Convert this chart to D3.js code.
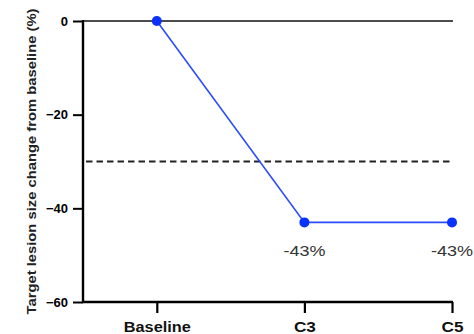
<!DOCTYPE html>
<html><head><meta charset="utf-8">
<script src="https://cdn.jsdelivr.net/npm/d3@7"></script>
<style>body{margin:0;background:#fff}svg{display:block}</style>
</head><body>
<svg id="c" width="474" height="334"></svg>
<script>
const categories = ["Baseline", "C3", "C5"];
const values = [0, -43, -43];
const pointLabels = ["", "-43%", "-43%"];
const yTicks = [0, -20, -40, -60];
const threshold = -30;

const svg = d3.select("#c");
const x = d3.scaleLinear().domain([-0.5, 2]).range([83, 452]);
const y = d3.scaleLinear().domain([0, -60]).range([21, 302]);
const font = "'Liberation Sans', Arial, sans-serif";
const xLabelW = { "Baseline": 67, "C3": 22, "C5": 22 };

// zero line
svg.append("line").attr("x1", x(-0.5)).attr("x2", x(2) + 1).attr("y1", y(0)).attr("y2", y(0))
  .attr("stroke", "#111").attr("stroke-width", 1.3);
// threshold dashed
svg.append("line").attr("x1", x(-0.5) + 3).attr("x2", x(2) + 1).attr("y1", y(threshold)).attr("y2", y(threshold))
  .attr("stroke", "#222").attr("stroke-width", 2).attr("stroke-dasharray", "6.5,4");

// y axis
const ya = svg.append("g").attr("transform", `translate(${x(-0.5)},0)`)
  .call(d3.axisLeft(y).tickValues(yTicks).tickSize(10).tickPadding(5).tickFormat(d3.format("d")));
ya.select(".domain").attr("stroke-width", 2.4).attr("d", `M0,${y(0) - 1}V${y(-60)}`);
ya.selectAll(".tick line").attr("stroke-width", 2);
ya.selectAll(".tick text").attr("font-family", font).attr("font-weight", "bold").attr("font-size", 13).attr("fill", "#000");

// x axis
const xa = svg.append("g").attr("transform", `translate(0,${y(-60)})`)
  .call(d3.axisBottom(x).tickValues([0, 1, 2]).tickSize(11).tickPadding(9).tickFormat(i => categories[i]));
xa.select(".domain").attr("stroke-width", 2.4).attr("d", `M${x(-0.5) - 1},0H${x(2) + 1}`);
xa.selectAll(".tick line").attr("stroke-width", 2.2);
xa.selectAll(".tick text").attr("font-family", font).attr("font-weight", "bold").attr("font-size", 14).attr("fill", "#111")
  .attr("textLength", i => xLabelW[categories[i]]).attr("lengthAdjust", "spacingAndGlyphs");

// y label
svg.append("text").attr("transform", `translate(36,${(y(0)+y(-60))/2}) rotate(-90)`)
  .attr("text-anchor", "middle").attr("font-family", font).attr("font-weight", "bold")
  .attr("font-size", 12.5).attr("fill", "#222")
  .attr("textLength", 306).attr("lengthAdjust", "spacingAndGlyphs")
  .text("Target lesion size change from baseline (%)");

// line
const line = d3.line().x((d, i) => x(i)).y(d => y(d));
svg.append("path").datum(values).attr("d", line).attr("fill", "none")
  .attr("stroke", "#2a4dff").attr("stroke-width", 1.6);
svg.selectAll("circle.p").data(values).join("circle").attr("class", "p")
  .attr("cx", (d, i) => x(i)).attr("cy", d => y(d)).attr("r", 5).attr("fill", "#0a32ff");

// point labels
svg.selectAll("text.pl").data(values).join("text").attr("class", "pl")
  .attr("x", (d, i) => x(i)).attr("y", d => y(d) + 34).attr("text-anchor", "middle")
  .attr("font-family", font).attr("font-size", 15).attr("fill", "#333")
  .each(function (d, i) { if (pointLabels[i]) d3.select(this).attr("textLength", 42).attr("lengthAdjust", "spacingAndGlyphs"); })
  .text((d, i) => pointLabels[i]);
</script>
</body></html>
